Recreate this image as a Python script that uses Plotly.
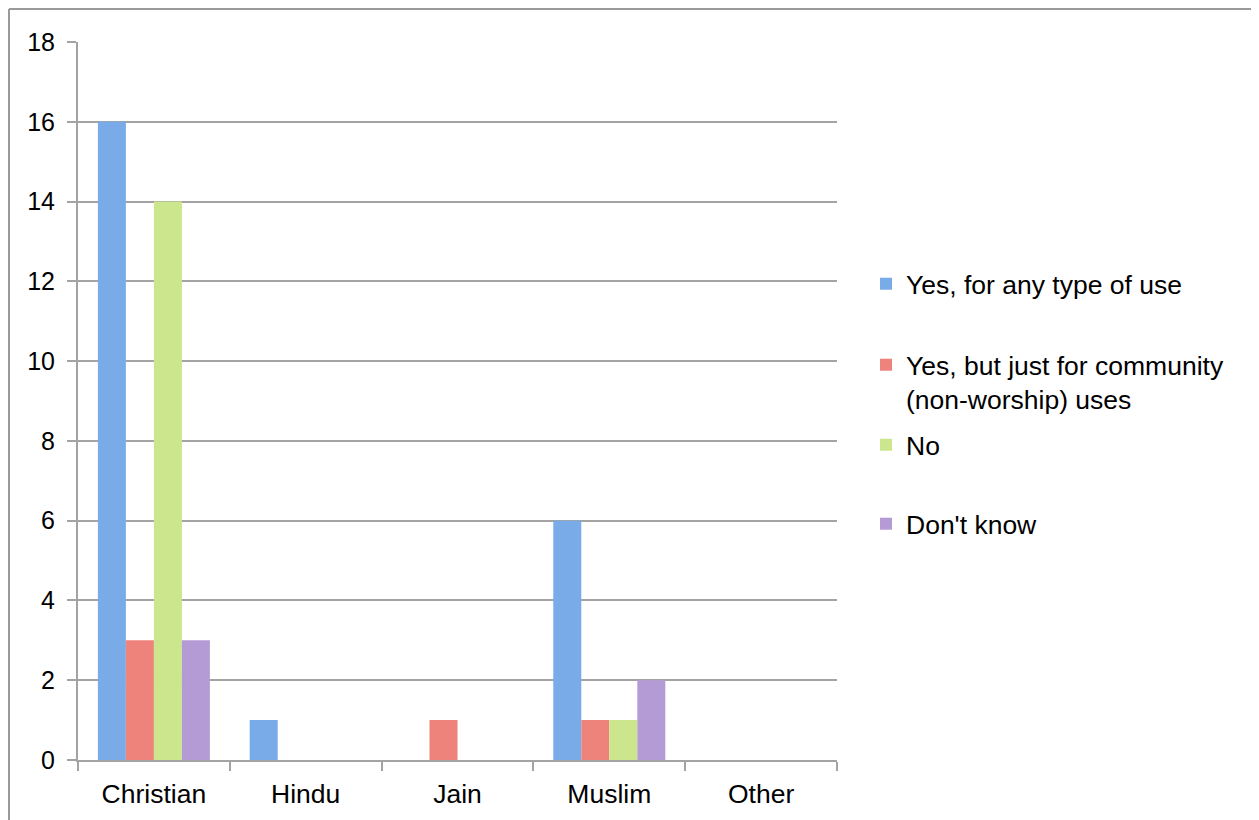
import plotly.graph_objects as go

categories = ["Christian", "Hindu", "Jain", "Muslim", "Other"]
series_names = [
    "Yes, for any type of use",
    "Yes, but just for community<br>(non-worship) uses",
    "No",
    "Don't know",
]
yes_any = [16, 1, 0, 6, 0]
yes_community = [3, 0, 1, 1, 0]
no_vals = [14, 0, 0, 1, 0]
dont_know = [3, 0, 0, 2, 0]
series_values = [yes_any, yes_community, no_vals, dont_know]
colors = ["#78abe8", "#ee837c", "#cbe68c", "#b59bd5"]
legend_tops_px = [252, 333, 413, 492]  # top of each legend entry (figure pixels)

W, H = 1251, 812
ML, MR, MT, MB = 70, 422, 34, 60
plot_w = W - ML - MR
plot_h = H - MT - MB

FONT = "Liberation Sans, Arial, Helvetica, sans-serif"

fig = go.Figure()
legend_ids = ["legend", "legend2", "legend3", "legend4"]
for name, vals, col, lid in zip(series_names, series_values, colors, legend_ids):
    fig.add_trace(go.Bar(
        x=categories, y=vals, name=name,
        marker=dict(color=col, line=dict(width=0)),
        legend=lid,
    ))

def px_to_paper_x(px):
    return (px - ML) / plot_w

def px_to_paper_y(py):
    return (H - MB - py) / plot_h

legend_layouts = {}
for lid, top in zip(legend_ids, legend_tops_px):
    legend_layouts[lid] = dict(
        x=px_to_paper_x(858), xanchor="left",
        y=px_to_paper_y(top), yanchor="top",
        font=dict(family=FONT, size=26.5, color="#000000"),
        bgcolor="rgba(0,0,0,0)", borderwidth=0,
        valign="top",
    )

grid_col = "#a3a3a3"
fig.update_layout(
    width=W, height=H,
    margin=dict(l=ML, r=MR, t=MT, b=MB, pad=0),
    paper_bgcolor="white", plot_bgcolor="white",
    font=dict(family=FONT, size=26.5, color="#000000"),
    barmode="group", bargap=0.262, bargroupgap=0,
    showlegend=True,
    **legend_layouts,
    xaxis=dict(
        showline=True, linecolor=grid_col, linewidth=2,
        ticks="outside", tickson="boundaries", ticklen=9, tickwidth=2, tickcolor=grid_col,
        showgrid=False, tickfont=dict(size=26.5), ticklabelstandoff=9,
    ),
    yaxis=dict(
        range=[0, 18], dtick=2, tick0=0,
        showline=True, linecolor=grid_col, linewidth=2,
        showgrid=True, gridcolor=grid_col, gridwidth=2,
        ticks="outside", ticklen=9, tickwidth=2, tickcolor=grid_col,
        tickfont=dict(size=25), zeroline=False, ticklabelstandoff=7,
    ),
    shapes=[
        dict(type="line", xref="paper", yref="paper",
             x0=px_to_paper_x(1), x1=px_to_paper_x(W + 5),
             y0=px_to_paper_y(1), y1=px_to_paper_y(1),
             line=dict(color="#9a9a9a", width=2)),
        dict(type="line", xref="paper", yref="paper",
             x0=px_to_paper_x(1), x1=px_to_paper_x(1),
             y0=px_to_paper_y(1), y1=px_to_paper_y(H + 5),
             line=dict(color="#9a9a9a", width=2)),
    ],
)

fig.write_html("out.html")
